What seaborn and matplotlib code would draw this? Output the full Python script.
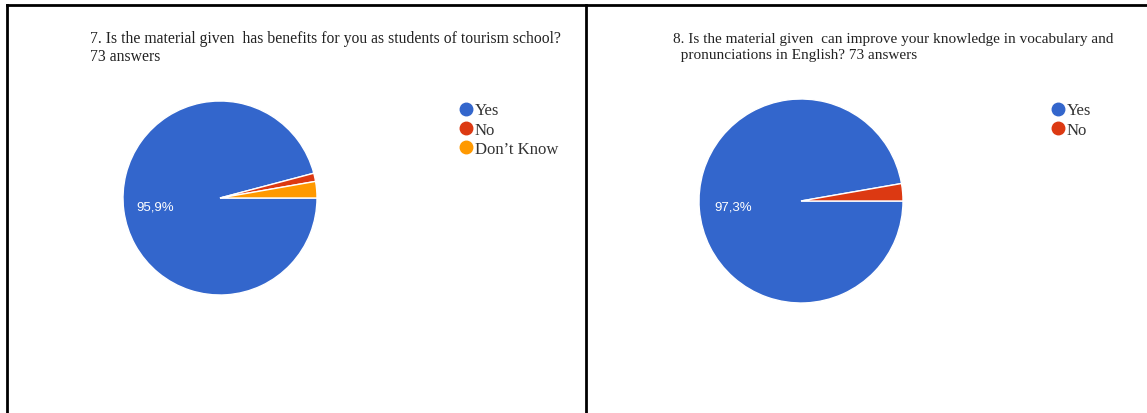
import matplotlib
matplotlib.use("Agg")
import matplotlib.pyplot as plt
from matplotlib.lines import Line2D
import seaborn as sns

# Survey answers (73 respondents each)
q7_title = "7. Is the material given  has benefits for you as students of tourism school?\n73 answers"
q7_labels = ["Yes", "No", "Don\u2019t Know"]
q7_counts = [70, 1, 2]

q8_title = "8. Is the material given  can improve your knowledge in vocabulary and\n  pronunciations in English? 73 answers"
q8_labels = ["Yes", "No"]
q8_counts = [71, 2]

slice_colors = ["#3366CC", "#DC3912", "#FF9900"]

sns.set_theme(style="white")
plt.rcParams["font.family"] = ["Liberation Serif", "DejaVu Serif"]

W, H = 1147, 414
fig = plt.figure(figsize=(W / 100, H / 100), dpi=100)
fig.patch.set_facecolor("white")


def px_axes(cx, cy, r):
    return fig.add_axes([(cx - r) / W, (H - cy - r) / H, 2 * r / W, 2 * r / H])


def pct_only_major(p):
    return f"{p:.1f}%".replace(".", ",") if p > 50 else ""


def draw_pie(ax, counts, colors):
    ax.pie(counts, colors=colors, startangle=0, counterclock=False,
           autopct=pct_only_major, pctdistance=0.67,
           wedgeprops=dict(edgecolor="white", linewidth=1.0),
           textprops=dict(color="white", fontsize=9.5,
                          family=["Liberation Sans", "DejaVu Sans"]))
    ax.set_xlim(-1, 1)
    ax.set_ylim(-1, 1)
    ax.set_aspect("equal")
    ax.axis("off")


def legend_handles(labels, colors):
    return [Line2D([], [], linestyle="none", marker="o", markersize=9,
                   markerfacecolor=c, markeredgecolor=c, label=l)
            for l, c in zip(labels, colors)]


legend_style = dict(loc="upper left", frameon=False, fontsize=12,
                    handletextpad=0.0, labelspacing=0.2, handlelength=1.1,
                    borderpad=0, labelcolor="#333333")

# Left panel
ax1 = px_axes(220, 199, 97)
draw_pie(ax1, q7_counts, slice_colors[:3])
fig.text(90 / W, 1 - 31 / H, q7_title, ha="left", va="top", fontsize=11.3,
         color="#222222", linespacing=1.15)
fig.legend(handles=legend_handles(q7_labels, slice_colors[:3]),
           bbox_to_anchor=(448 / W, 1 - 95 / H), **legend_style)

# Right panel
ax2 = px_axes(801, 202, 102)
draw_pie(ax2, q8_counts, slice_colors[:2])
fig.text(673 / W, 1 - 33 / H, q8_title, ha="left", va="top", fontsize=11.0,
         color="#222222", linespacing=1.35)
fig.legend(handles=legend_handles(q8_labels, slice_colors[:2]),
           bbox_to_anchor=(1040 / W, 1 - 95 / H), **legend_style)

# Panel frame lines
frame = dict(color="black", linewidth=2.0, solid_capstyle="projecting")
fig.add_artist(Line2D([7 / W, 1.0], [1 - 5.5 / H] * 2, transform=fig.transFigure, **frame))
fig.add_artist(Line2D([7 / W] * 2, [0, 1 - 5.5 / H], transform=fig.transFigure, **frame))
fig.add_artist(Line2D([586 / W] * 2, [0, 1 - 5.5 / H], transform=fig.transFigure, **frame))

fig.savefig("out.png", dpi=100, facecolor="white")
